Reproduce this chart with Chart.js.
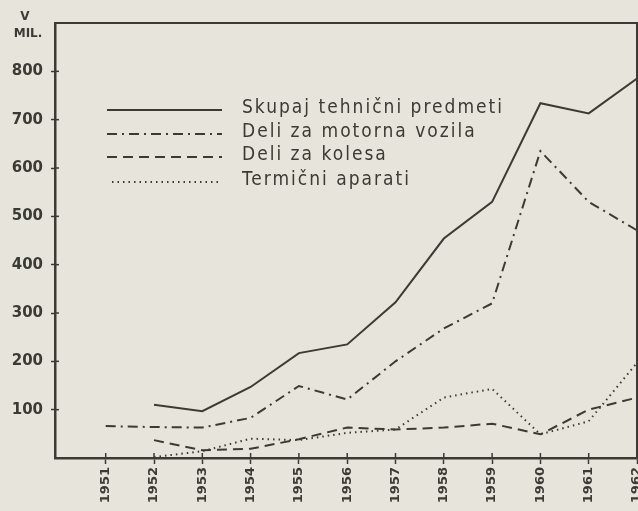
<!DOCTYPE html>
<html>
<head>
<meta charset="utf-8">
<script src="https://cdn.jsdelivr.net/npm/chart.js@4/dist/chart.umd.min.js"></script>
<style>
  html, body { margin: 0; padding: 0; background: #e7e5db; }
  #wrap { width: 638px; height: 511px; }
</style>
</head>
<body>
<div id="wrap"><canvas id="chart"></canvas></div>
<script>
const years = [1951, 1952, 1953, 1954, 1955, 1956, 1957, 1958, 1959, 1960, 1961, 1962]

// v mil. din
const skupaj = [null, 110, 97, 147, 217, 235, 322, 454, 530, 734, 713, 785]
const motornaVozila = [66, 64, 63, 83, 149, 121, 200, 268, 320, 635, 530, 471]
const kolesa = [null, 37, 16, 19, 39, 63, 59, 63, 71, 49, 100, 125]
const termicni = [null, 2, 14, 40, 37, 52, 59, 125, 143, 49, 76, 197]

const labels = [
  'Skupaj tehnični predmeti',
  'Deli za motorna vozila',
  'Deli za kolesa',
  'Termični aparati',
]

const yTicks = [100, 200, 300, 400, 500, 600, 700, 800]

const ink = '#3b3a35'

const toPoints = (vals) => years
  .map((yr, i) => ({ x: yr, y: vals[i] }))
  .filter(p => p.y !== null)

const makeSet = (label, vals, dash, width) => ({
  label: label,
  data: toPoints(vals),
  borderColor: ink,
  borderWidth: width,
  borderDash: dash,
  pointRadius: 0,
  tension: 0,
  fill: false,
})

const data = {
  datasets: [
    makeSet(labels[0], skupaj, [], 2),
    makeSet(labels[1], motornaVozila, [10, 5, 2, 5], 2),
    makeSet(labels[2], kolesa, [10, 6], 2),
    makeSet(labels[3], termicni, [1.5, 4], 2),
  ]
}

// frame, inner tick crosses, unit label and the hand drawn style legend
const extras = {
  id: 'extras',
  afterDraw(chart) {
    const ctx = chart.ctx
    const a = chart.chartArea
    ctx.save()
    ctx.strokeStyle = ink
    ctx.lineWidth = 2
    ctx.beginPath()
    ctx.moveTo(a.left, a.top)
    ctx.lineTo(a.right, a.top)
    ctx.lineTo(a.right, a.bottom)
    ctx.stroke()

    ctx.lineWidth = 1.5
    const ys = chart.scales.y
    yTicks.forEach(v => {
      const py = ys.getPixelForValue(v)
      ctx.beginPath()
      ctx.moveTo(a.left, py)
      ctx.lineTo(a.left + 4, py)
      ctx.stroke()
    })
    const xs = chart.scales.x
    years.forEach(yr => {
      const px = xs.getPixelForValue(yr)
      ctx.beginPath()
      ctx.moveTo(px, a.bottom)
      ctx.lineTo(px, a.bottom - 5)
      ctx.stroke()
    })

    ctx.fillStyle = ink
    ctx.font = 'bold 12px "DejaVu Sans"'
    ctx.textAlign = 'center'
    ctx.textBaseline = 'alphabetic'
    ctx.fillText('V', 25, 20)
    ctx.fillText('MIL.', 28, 37)

    const rowY = [110, 134, 157, 182]
    ctx.font = '19px "DejaVu Sans Condensed", "DejaVu Sans"'
    ctx.letterSpacing = '2px'
    ctx.textAlign = 'left'
    chart.data.datasets.forEach((ds, i) => {
      ctx.setLineDash(ds.borderDash)
      ctx.lineWidth = 2
      ctx.beginPath()
      ctx.moveTo(i === 3 ? 112 : 107, rowY[i])
      ctx.lineTo(222, rowY[i])
      ctx.stroke()
      ctx.setLineDash([])
      ctx.fillText(ds.label, 242, rowY[i] + 3)
    })
    ctx.restore()
  }
}

const config = {
  type: 'line',
  data: data,
  plugins: [extras],
  options: {
    responsive: true,
    maintainAspectRatio: false,
    animation: false,
    layout: {
      padding: { top: 23, right: 1, left: 0, bottom: 0 }
    },
    plugins: {
      legend: { display: false },
      tooltip: { enabled: false },
    },
    scales: {
      x: {
        type: 'linear',
        min: 1949.95,
        max: 1962,
        afterFit: (scale) => {
          scale.height = 53
          scale.paddingLeft = 0
          scale.paddingRight = 0
        },
        afterBuildTicks: (scale) => {
          scale.ticks = years.map(v => ({ value: v }))
        },
        border: { color: ink, width: 2.5 },
        grid: { drawOnChartArea: false, tickLength: 6, tickColor: ink, tickWidth: 1.5 },
        ticks: {
          minRotation: 90,
          maxRotation: 90,
          padding: 3,
          color: ink,
          font: { family: '"DejaVu Sans"', size: 13, weight: 'bold' },
          callback: (v) => String(v),
        },
      },
      y: {
        min: 0,
        max: 900,
        afterFit: (scale) => {
          scale.width = 55
          scale.paddingTop = 0
          scale.paddingBottom = 0
        },
        afterBuildTicks: (scale) => {
          scale.ticks = yTicks.map(v => ({ value: v }))
        },
        border: { color: ink, width: 2.5 },
        grid: { drawOnChartArea: false, tickLength: 4, tickColor: ink, tickWidth: 1.5 },
        ticks: {
          padding: 8,
          color: ink,
          font: { family: '"DejaVu Sans"', size: 15, weight: 'bold' },
          callback: (v) => String(v),
        },
      }
    }
  }
}

const chart = new Chart(document.getElementById('chart'), config)
</script>
</body>
</html>
